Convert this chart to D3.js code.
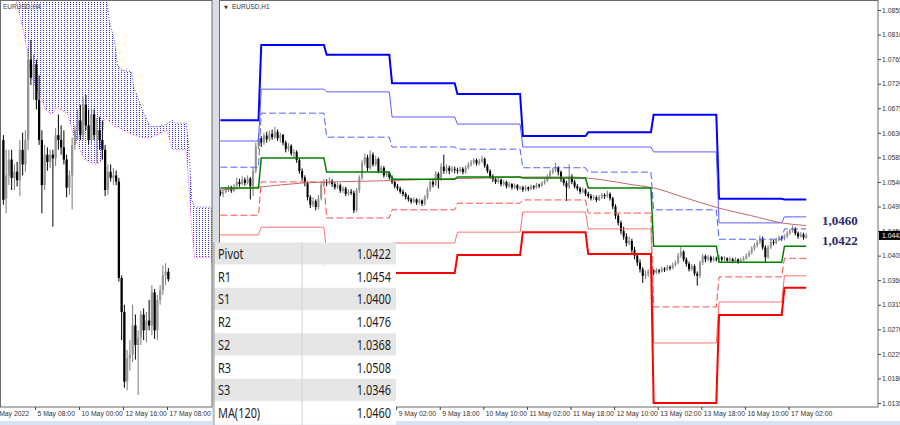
<!DOCTYPE html>
<html><head><meta charset="utf-8">
<script src="https://cdn.jsdelivr.net/npm/d3@7"></script>
<style>body{margin:0;background:#fff;} svg{display:block;}</style>
</head><body><svg id="c" width="900" height="425"></svg>
<script>
// ---------------- DATA ----------------
// H1 candles (right panel) [open, high, low, close], 4 May 09:00 .. 17 May 08:00
const h1 = [
[1.0522,1.0526,1.0514,1.0518],[1.0518,1.0525,1.0512,1.0522],[1.0522,1.0530,1.0519,1.0526],[1.0526,1.0534,1.0522,1.0530],
[1.0530,1.0533,1.0520,1.0524],[1.0524,1.0536,1.0521,1.0532],[1.0532,1.0548,1.0528,1.0540],[1.0540,1.0546,1.0531,1.0536],
[1.0536,1.0550,1.0534,1.0544],[1.0544,1.0548,1.0533,1.0538],[1.0538,1.0552,1.0535,1.0546],[1.0546,1.0549,1.0508,1.0532],
[1.0532,1.0566,1.0514,1.0560],[1.0560,1.0612,1.0556,1.0605],[1.0605,1.0628,1.0600,1.0620],
[1.0620,1.0624,1.0604,1.0612],[1.0612,1.0630,1.0608,1.0625],[1.0625,1.0632,1.0612,1.0618],[1.0618,1.0634,1.0614,1.0628],
[1.0628,1.0636,1.0617,1.0622],[1.0622,1.0641,1.0619,1.0632],[1.0632,1.0636,1.0615,1.0620],[1.0620,1.0630,1.0612,1.0626],
[1.0626,1.0628,1.0607,1.0612],[1.0612,1.0616,1.0594,1.0600],[1.0600,1.0611,1.0596,1.0606],[1.0606,1.0609,1.0588,1.0592],
[1.0592,1.0600,1.0585,1.0595],[1.0595,1.0598,1.0575,1.0580],[1.0580,1.0583,1.0555,1.0560],[1.0560,1.0565,1.0542,1.0548],
[1.0548,1.0552,1.0532,1.0538],[1.0538,1.0541,1.0506,1.0512],[1.0512,1.0516,1.0492,1.0498],[1.0498,1.0512,1.0494,1.0505],
[1.0505,1.0508,1.0488,1.0494],[1.0494,1.0516,1.0490,1.0510],[1.0510,1.0540,1.0506,1.0535],[1.0535,1.0546,1.0530,1.0540],
[1.0540,1.0545,1.0532,1.0538],[1.0538,1.0548,1.0535,1.0542],[1.0542,1.0545,1.0531,1.0536],[1.0536,1.0540,1.0526,1.0530],
[1.0530,1.0539,1.0527,1.0534],[1.0534,1.0537,1.0520,1.0524],[1.0524,1.0532,1.0520,1.0528],[1.0528,1.0531,1.0514,1.0518],
[1.0518,1.0526,1.0515,1.0522],[1.0522,1.0527,1.0516,1.0520],[1.0520,1.0524,1.0483,1.0488],[1.0488,1.0529,1.0485,1.0525],
[1.0525,1.0552,1.0520,1.0548],[1.0548,1.0580,1.0544,1.0575],[1.0575,1.0592,1.0570,1.0585],[1.0585,1.0590,1.0560,1.0565],
[1.0565,1.0598,1.0562,1.0590],[1.0590,1.0594,1.0568,1.0572],[1.0572,1.0588,1.0569,1.0582],[1.0582,1.0585,1.0556,1.0560],
[1.0560,1.0570,1.0557,1.0566],[1.0566,1.0569,1.0548,1.0552],[1.0552,1.0560,1.0549,1.0556],[1.0556,1.0559,1.0544,1.0548],
[1.0548,1.0552,1.0536,1.0540],[1.0540,1.0543,1.0528,1.0532],[1.0532,1.0536,1.0524,1.0528],[1.0528,1.0531,1.0518,1.0522],
[1.0522,1.0526,1.0514,1.0518],[1.0518,1.0521,1.0508,1.0512],[1.0512,1.0516,1.0504,1.0508],[1.0508,1.0511,1.0500,1.0504],
[1.0504,1.0512,1.0501,1.0508],[1.0508,1.0510,1.0498,1.0502],[1.0502,1.0510,1.0499,1.0506],[1.0506,1.0508,1.0496,1.0500],
[1.0500,1.0516,1.0497,1.0512],[1.0512,1.0530,1.0508,1.0526],[1.0526,1.0545,1.0522,1.0540],[1.0540,1.0546,1.0530,1.0535],
[1.0535,1.0560,1.0532,1.0555],[1.0555,1.0558,1.0528,1.0545],[1.0545,1.0574,1.0542,1.0568],[1.0568,1.0590,1.0555,1.0560],
[1.0560,1.0572,1.0556,1.0566],[1.0566,1.0570,1.0554,1.0560],[1.0560,1.0569,1.0557,1.0564],[1.0564,1.0568,1.0556,1.0562],
[1.0562,1.0566,1.0555,1.0560],[1.0560,1.0568,1.0557,1.0564],[1.0564,1.0567,1.0554,1.0558],[1.0558,1.0570,1.0555,1.0566],
[1.0566,1.0576,1.0563,1.0572],[1.0572,1.0580,1.0568,1.0576],[1.0576,1.0584,1.0572,1.0580],[1.0580,1.0583,1.0570,1.0574],
[1.0574,1.0582,1.0571,1.0578],[1.0578,1.0588,1.0575,1.0582],[1.0582,1.0585,1.0566,1.0570],[1.0570,1.0573,1.0556,1.0560],
[1.0560,1.0563,1.0546,1.0550],[1.0550,1.0554,1.0540,1.0545],[1.0545,1.0548,1.0536,1.0540],[1.0540,1.0548,1.0537,1.0544],
[1.0544,1.0546,1.0532,1.0536],[1.0536,1.0544,1.0533,1.0540],[1.0540,1.0542,1.0528,1.0532],[1.0532,1.0540,1.0529,1.0536],
[1.0536,1.0538,1.0526,1.0530],[1.0530,1.0537,1.0527,1.0534],[1.0534,1.0536,1.0524,1.0528],[1.0528,1.0533,1.0525,1.0530],
[1.0530,1.0533,1.0522,1.0526],[1.0526,1.0534,1.0523,1.0530],[1.0530,1.0532,1.0523,1.0527],[1.0527,1.0535,1.0525,1.0532],
[1.0532,1.0534,1.0526,1.0530],[1.0530,1.0538,1.0528,1.0535],[1.0535,1.0537,1.0529,1.0533],[1.0533,1.0541,1.0531,1.0538],
[1.0538,1.0546,1.0535,1.0542],[1.0542,1.0554,1.0540,1.0550],[1.0550,1.0562,1.0547,1.0558],[1.0558,1.0566,1.0554,1.0562],
[1.0562,1.0575,1.0558,1.0566],[1.0566,1.0569,1.0552,1.0558],[1.0558,1.0561,1.0540,1.0545],[1.0545,1.0549,1.0533,1.0538],
[1.0538,1.0542,1.0505,1.0530],[1.0530,1.0572,1.0527,1.0550],[1.0550,1.0554,1.0536,1.0540],[1.0540,1.0544,1.0528,1.0532],
[1.0532,1.0536,1.0524,1.0528],[1.0528,1.0531,1.0518,1.0522],[1.0522,1.0530,1.0519,1.0526],[1.0526,1.0528,1.0514,1.0518],
[1.0518,1.0522,1.0510,1.0514],[1.0514,1.0518,1.0506,1.0510],[1.0510,1.0516,1.0507,1.0512],[1.0512,1.0515,1.0503,1.0507],
[1.0507,1.0516,1.0505,1.0512],[1.0512,1.0520,1.0509,1.0516],[1.0516,1.0519,1.0509,1.0514],[1.0514,1.0524,1.0511,1.0518],
[1.0518,1.0521,1.0506,1.0510],[1.0510,1.0513,1.0490,1.0495],[1.0495,1.0499,1.0472,1.0478],[1.0478,1.0482,1.0460,1.0465],
[1.0465,1.0469,1.0444,1.0450],[1.0450,1.0458,1.0434,1.0440],[1.0440,1.0446,1.0422,1.0428],[1.0428,1.0440,1.0424,1.0432],
[1.0432,1.0436,1.0408,1.0415],[1.0415,1.0421,1.0398,1.0405],[1.0405,1.0410,1.0386,1.0392],[1.0392,1.0398,1.0374,1.0380],
[1.0380,1.0384,1.0355,1.0368],[1.0368,1.0378,1.0362,1.0372],[1.0372,1.0380,1.0366,1.0376],[1.0376,1.0382,1.0370,1.0378],
[1.0378,1.0380,1.0369,1.0374],[1.0374,1.0382,1.0371,1.0378],[1.0378,1.0381,1.0372,1.0376],[1.0376,1.0385,1.0374,1.0381],
[1.0381,1.0384,1.0375,1.0379],[1.0379,1.0388,1.0377,1.0384],[1.0384,1.0387,1.0378,1.0382],[1.0382,1.0392,1.0380,1.0388],
[1.0388,1.0396,1.0385,1.0392],[1.0392,1.0410,1.0389,1.0405],[1.0405,1.0422,1.0401,1.0412],[1.0412,1.0415,1.0394,1.0398],
[1.0398,1.0402,1.0385,1.0390],[1.0390,1.0394,1.0376,1.0380],[1.0380,1.0390,1.0377,1.0386],[1.0386,1.0389,1.0368,1.0372],
[1.0372,1.0376,1.0350,1.0368],[1.0368,1.0396,1.0364,1.0392],[1.0392,1.0408,1.0388,1.0404],[1.0404,1.0407,1.0393,1.0398],
[1.0398,1.0406,1.0395,1.0402],[1.0402,1.0405,1.0392,1.0396],[1.0396,1.0404,1.0394,1.0400],[1.0400,1.0403,1.0394,1.0398],
[1.0398,1.0406,1.0395,1.0402],[1.0402,1.0404,1.0394,1.0398],[1.0398,1.0404,1.0395,1.0400],[1.0400,1.0402,1.0392,1.0396],
[1.0396,1.0403,1.0394,1.0399],[1.0399,1.0401,1.0391,1.0395],[1.0395,1.0402,1.0393,1.0398],[1.0398,1.0400,1.0390,1.0394],
[1.0394,1.0401,1.0392,1.0397],[1.0397,1.0404,1.0395,1.0400],[1.0400,1.0409,1.0398,1.0405],[1.0405,1.0414,1.0402,1.0410],
[1.0410,1.0422,1.0407,1.0418],[1.0418,1.0428,1.0414,1.0424],[1.0424,1.0434,1.0420,1.0430],[1.0430,1.0442,1.0426,1.0436],
[1.0436,1.0440,1.0416,1.0420],[1.0420,1.0424,1.0393,1.0402],[1.0402,1.0424,1.0399,1.0420],[1.0420,1.0434,1.0417,1.0430],
[1.0430,1.0434,1.0424,1.0428],[1.0428,1.0438,1.0426,1.0434],[1.0434,1.0442,1.0431,1.0438],[1.0438,1.0441,1.0432,1.0436],
[1.0436,1.0444,1.0433,1.0440],[1.0440,1.0450,1.0437,1.0446],[1.0446,1.0454,1.0443,1.0450],[1.0450,1.0460,1.0447,1.0454],
[1.0454,1.0457,1.0442,1.0446],[1.0446,1.0449,1.0436,1.0440],[1.0440,1.0448,1.0438,1.0444],[1.0444,1.0447,1.0434,1.0438],
[1.0438,1.0446,1.0436,1.0442]
];

// Daily pivot levels (right panel); first bar index of each day
const dayNames = ["4 May","5 May","6 May","9 May","10 May","11 May","12 May","13 May","16 May","17 May"];
const dayStart = [0,15,39,63,87,111,135,159,183,207];
const r3 = [1.0653,1.0791,1.0773,1.0721,1.0701,1.0624,1.0631,1.0663,1.0509,1.0508];
const r2 = [1.0615,1.0710,1.0705,1.0659,1.0646,1.0604,1.0604,1.0595,1.0465,1.0476];
const r1 = [1.0567,1.0666,1.0622,1.0604,1.0600,1.0566,1.0558,1.0489,1.0435,1.0454];
const pv = [1.0529,1.0584,1.0558,1.0545,1.0549,1.0547,1.0529,1.0422,1.0393,1.0422];
const s1 = [1.0479,1.0540,1.0474,1.0489,1.0501,1.0507,1.0483,1.0311,1.0366,1.0400];
const s2 = [1.0443,1.0457,1.0412,1.0428,1.0448,1.0485,1.0454,1.0245,1.0320,1.0368];
const s3 = [1.0391,1.0413,1.0325,1.0373,1.0406,1.0448,1.0408,1.0135,1.0296,1.0346];

// MA(120) read points (bar index, value)
const maIdx = [0,15,30,41,59,78,96,114,129,135,140,151,159,170,183,195,206,215];
const maVal = [1.0525,1.0531,1.0538,1.0540,1.0542,1.0545,1.0547,1.0549,1.0549,1.0547,1.0544,1.0535,1.0529,1.0512,1.0492,1.0478,1.0465,1.0460];

// H4 candles (left panel) [open, high, low, close], 3 May 08:00 .. 17 May 08:00
const h4 = [
[1.0559,1.0563,1.0506,1.0510],[1.0511,1.0551,1.0499,1.0530],[1.0530,1.0551,1.0522,1.0543],[1.0543,1.0551,1.0518,1.0528],
[1.0528,1.0539,1.0518,1.0533],[1.0533,1.0541,1.0521,1.0526],[1.0526,1.0559,1.0513,1.0551],[1.0551,1.0565,1.0530,1.0539],
[1.0539,1.0567,1.0533,1.0559],[1.0559,1.0634,1.0551,1.0625],[1.0625,1.0641,1.0604,1.0610],[1.0610,1.0629,1.0592,1.0621],
[1.0621,1.0625,1.0584,1.0592],[1.0592,1.0612,1.0555,1.0559],[1.0559,1.0567,1.0499,1.0522],[1.0522,1.0555,1.0518,1.0547],
[1.0547,1.0553,1.0534,1.0541],[1.0541,1.0551,1.0536,1.0547],[1.0547,1.0551,1.0488,1.0544],[1.0544,1.0569,1.0538,1.0563],
[1.0563,1.0580,1.0551,1.0559],[1.0559,1.0571,1.0547,1.0553],[1.0553,1.0567,1.0539,1.0543],[1.0543,1.0547,1.0512,1.0520],
[1.0520,1.0534,1.0514,1.0530],[1.0530,1.0561,1.0502,1.0555],[1.0555,1.0571,1.0551,1.0567],[1.0567,1.0584,1.0559,1.0575],
[1.0575,1.0588,1.0559,1.0563],[1.0563,1.0594,1.0559,1.0588],[1.0588,1.0596,1.0567,1.0571],[1.0571,1.0584,1.0555,1.0559],
[1.0559,1.0585,1.0555,1.0580],[1.0580,1.0584,1.0559,1.0563],[1.0563,1.0577,1.0540,1.0567],[1.0567,1.0578,1.0551,1.0559],
[1.0559,1.0575,1.0543,1.0551],[1.0551,1.0555,1.0513,1.0518],[1.0518,1.0539,1.0514,1.0533],[1.0533,1.0539,1.0525,1.0528],
[1.0528,1.0536,1.0522,1.0530],[1.0530,1.0534,1.0522,1.0525],[1.0525,1.0528,1.0443,1.0446],[1.0446,1.0448,1.0395,1.0418],
[1.0418,1.0424,1.0356,1.0361],[1.0361,1.0387,1.0354,1.0380],[1.0380,1.0395,1.0370,1.0383],[1.0383,1.0424,1.0377,1.0407],
[1.0407,1.0416,1.0379,1.0391],[1.0391,1.0403,1.0350,1.0397],[1.0397,1.0419,1.0391,1.0416],[1.0416,1.0421,1.0395,1.0403],
[1.0403,1.0418,1.0393,1.0411],[1.0411,1.0428,1.0403,1.0407],[1.0407,1.0440,1.0399,1.0434],[1.0434,1.0437,1.0396,1.0403],
[1.0403,1.0432,1.0395,1.0428],[1.0428,1.0440,1.0424,1.0436],[1.0436,1.0456,1.0432,1.0448],[1.0448,1.0458,1.0440,1.0451],
[1.0451,1.0454,1.0443,1.0445]
];

// Ichimoku cloud (left panel): H4 bar index, upper span, lower span
const cloudIdx   = [5,8,11,16,18,20,24,26,30,34,36,37,38,39,41,42,44,47,48,51,53,54,57,60,62,63,67,68,69,70,71,76,77];
const cloudUpper = [1.0678,1.0678,1.0678,1.0678,1.0678,1.0678,1.0678,1.0678,1.0678,1.0678,1.0678,1.0678,1.0674,1.0657,1.0639,1.0620,1.0616,1.0615,1.0602,1.0584,1.0574,1.0570,1.0570,1.0572,1.0575,1.0573,1.0573,1.0551,1.0510,1.0504,1.0504,1.0504,1.0490];
const cloudLower = [1.0674,1.0647,1.0608,1.0584,1.0580,1.0586,1.0580,1.0563,1.0543,1.0539,1.0541,1.0575,1.0577,1.0574,1.0570,1.0570,1.0567,1.0564,1.0563,1.0561,1.0561,1.0561,1.0564,1.0567,1.0551,1.0551,1.0551,1.0522,1.0485,1.0463,1.0463,1.0463,1.0447];

// Axis ticks (only those visible in the reference)
const priceTicks = [1.0855,1.0810,1.0765,1.0720,1.0675,1.0630,1.0585,1.0540,1.0495,1.0450,1.0405,1.0360,1.0315,1.0270,1.0225,1.0180,1.0135];
const rTickIdx = [65,81,97,113,129,145,161,177,193,209];
const rTickLbl = ["9 May 02:00","9 May 18:00","10 May 10:00","11 May 02:00","11 May 18:00","12 May 10:00","13 May 02:00","13 May 18:00","16 May 10:00","17 May 02:00"];
const lTickIdx = [-4,12,28,44,60];
const lTickLbl = ["2 May 2022","5 May 08:00","10 May 00:00","12 May 16:00","17 May 08:00"];

// Table
const tableLabels = ["Pivot","R1","S1","R2","S2","R3","S3","MA(120)"];
const tableValues = ["1.0422","1.0454","1.0400","1.0476","1.0368","1.0508","1.0346","1.0460"];
// Right-side annotations
const annotValues = [1.0460, 1.0422];
const annotText = ["1,0460", "1,0422"];
const currentPrice = 1.0442;

// ---------------- DRAW ----------------
const svg = d3.select('#c');
const W = 900, H = 425;
const bwR = 2.725, bwL = 2.75;
const xR = d3.scaleLinear().domain([0, 216]).range([219, 219 + 216 * bwR]);
const yR = d3.scaleLinear().domain([1.0135, 1.0855]).range([403, 10]);
const xL = d3.scaleLinear().domain([0, 77]).range([2, 2 + 77 * bwL]);
const yL = d3.scaleLinear().domain([1.0350, 1.0641]).range([395, 40]);

svg.append('rect').attr('width', W).attr('height', H).attr('fill', '#fff');
const defs = svg.append('defs');
defs.append('clipPath').attr('id', 'clipL').append('rect').attr('x', 0).attr('y', 0).attr('width', 212).attr('height', 407);
defs.append('clipPath').attr('id', 'clipR').append('rect').attr('x', 219).attr('y', 0).attr('width', 659).attr('height', 407);
const pat = defs.append('pattern').attr('id', 'cloudPat').attr('patternUnits', 'userSpaceOnUse')
  .attr('x', 0).attr('y', 0).attr('width', 3).attr('height', 2);
pat.append('rect').attr('x', 1).attr('y', 0).attr('width', 1).attr('height', 1).attr('fill', '#3535ff')
  .attr('shape-rendering', 'crispEdges');

// splitter & bottom strip
svg.append('rect').attr('x', 212).attr('y', 0).attr('width', 7).attr('height', 421).attr('fill', '#d8dde6');
svg.append('rect').attr('x', 0).attr('y', 421).attr('width', W).attr('height', 4).attr('fill', '#d5e3f4');

// ---- left panel ----
const gL = svg.append('g').attr('clip-path', 'url(#clipL)');
const cloud = cloudIdx.map((d, i) => ({ i: d, u: cloudUpper[i], l: cloudLower[i] }));
gL.append('path').datum(cloud)
  .attr('d', d3.area().x(d => xL(d.i)).y0(d => yL(d.l)).y1(d => yL(d.u)))
  .attr('fill', 'url(#cloudPat)');
gL.append('path').datum(cloud).attr('d', d3.line().x(d => xL(d.i)).y(d => yL(d.u)))
  .attr('fill', 'none').attr('stroke', '#3a3aff').attr('stroke-width', 1).attr('stroke-dasharray', '1,2');
gL.append('path').datum(cloud).attr('d', d3.line().x(d => xL(d.i)).y(d => yL(d.l)))
  .attr('fill', 'none').attr('stroke', '#ff30ff').attr('stroke-width', 1).attr('stroke-dasharray', '1,2');

function candles(g, data, x, y, bw, bodyW) {
  const c = g.append('g').selectAll('g').data(data).join('g');
  c.append('line')
    .attr('x1', (d, i) => x(i) + bw / 2).attr('x2', (d, i) => x(i) + bw / 2)
    .attr('y1', d => y(d[1])).attr('y2', d => y(d[2]))
    .attr('stroke', d => d[3] >= d[0] ? '#7a7a7a' : '#000').attr('stroke-width', 1);
  c.append('rect')
    .attr('x', (d, i) => x(i) + bw / 2 - bodyW / 2).attr('width', bodyW)
    .attr('y', d => y(Math.max(d[0], d[3])))
    .attr('height', d => Math.max(1, Math.abs(y(d[0]) - y(d[3]))))
    .attr('fill', d => d[3] >= d[0] ? '#949494' : '#000');
}
candles(gL, h4, xL, yL, bwL, 2.3);

// ---- right panel ----
const gR = svg.append('g').attr('clip-path', 'url(#clipR)');
candles(gR, h1, xR, yR, bwR, 2);
const bars = d3.range(h1.length);
const dayOf = i => d3.bisectRight(dayStart, i) - 1;
function level(arr, color, width, dash) {
  gR.append('path').datum(bars)
    .attr('d', d3.line().x(i => xR(i) + bwR / 2).y(i => yR(arr[dayOf(i)])))
    .attr('fill', 'none').attr('stroke', color).attr('stroke-width', width)
    .attr('stroke-dasharray', dash || null);
}
level(r3, '#0000ff', 2);
level(r2, '#5a5aff', 1);
level(r1, '#4f5fff', 1, '7,3');
level(s1, '#ff4a4a', 1, '7,3');
level(s2, '#ff7070', 1);
level(s3, '#ff0000', 2);
// MA(120)
gR.append('path').datum(maIdx.map((d, i) => [d, maVal[i]]))
  .attr('d', d3.line().x(d => xR(d[0]) + bwR / 2).y(d => yR(d[1])).curve(d3.curveMonotoneX))
  .attr('fill', 'none').attr('stroke', '#c46a6a').attr('stroke-width', 1);
level(pv, '#008000', 1.5);

// annotations
svg.selectAll('.annot').data(annotValues).join('text').attr('class', 'annot')
  .attr('x', 822).attr('y', d => yR(d) - 1)
  .attr('font-family', '"Liberation Serif", serif').attr('font-weight', 'bold').attr('font-size', 13)
  .attr('fill', '#2b2a6a').text((d, i) => annotText[i]);

// frames
svg.append('rect').attr('x', 0.5).attr('y', 0.5).attr('width', 211.5).attr('height', 406.5)
  .attr('fill', 'none').attr('stroke', '#6a6a6a');
svg.append('rect').attr('x', 219.5).attr('y', 0.5).attr('width', 658.5).attr('height', 406.5)
  .attr('fill', 'none').attr('stroke', '#6a6a6a');

// titles
svg.append('text').attr('x', 3).attr('y', 9).attr('font-family', '"Liberation Sans", sans-serif')
  .attr('font-size', 6.5).attr('fill', '#444').text('EURUSD,H4');
svg.append('text').attr('x', 224).attr('y', 9).attr('font-family', '"DejaVu Sans", sans-serif')
  .attr('font-size', 5).attr('fill', '#333').text('▼');
svg.append('text').attr('x', 232).attr('y', 9).attr('font-family', '"Liberation Sans", sans-serif')
  .attr('font-size', 6.5).attr('fill', '#333').text('EURUSD,H1');

// axes
function styleAxis(g) {
  g.select('.domain').remove();
  g.selectAll('line').attr('stroke', '#444');
  g.selectAll('text').attr('font-family', '"Liberation Sans", sans-serif').attr('font-size', 6.8).attr('fill', '#333');
}
const axR = svg.append('g').attr('transform', 'translate(878,0)')
  .call(d3.axisRight(yR).tickValues(priceTicks).tickFormat(d3.format('.4f')).tickSize(3).tickPadding(1));
styleAxis(axR);
axR.selectAll('text').attr('x', 4);

const axB = svg.append('g').attr('transform', 'translate(0,407)')
  .call(d3.axisBottom(xR).tickValues(rTickIdx).tickFormat((d, i) => rTickLbl[i]).tickSize(3));
styleAxis(axB);
axB.selectAll('text').attr('text-anchor', 'start').attr('x', 2).attr('y', 4).attr('dy', '0.71em');

const axL = svg.append('g').attr('transform', 'translate(0,407)')
  .call(d3.axisBottom(xL).tickValues(lTickIdx).tickFormat((d, i) => lTickLbl[i]).tickSize(3));
styleAxis(axL);
axL.selectAll('text').attr('text-anchor', 'start').attr('x', 2).attr('y', 4).attr('dy', '0.71em');

// current price marker
const cy = yR(currentPrice);
svg.append('rect').attr('x', 879).attr('y', cy - 4.5).attr('width', 21).attr('height', 9).attr('fill', '#000');
svg.append('text').attr('x', 882).attr('y', cy + 2.4).attr('font-family', '"Liberation Sans", sans-serif')
  .attr('font-size', 6.8).attr('fill', '#fff').text(currentPrice.toFixed(4));

// table
const tb = svg.append('g');
const rowH = 22.75, t0 = 242.5, tx0 = 214, tx1 = 396;
const rows = tb.selectAll('g').data(tableLabels).join('g')
  .attr('transform', (d, i) => `translate(0,${t0 + i * rowH})`);
rows.append('rect').attr('x', tx0).attr('width', tx1 - tx0).attr('height', rowH)
  .attr('fill', (d, i) => i % 2 === 0 ? '#e6e6e6' : '#ffffff');
rows.append('line').attr('x1', tx0).attr('x2', tx1).attr('y1', rowH - 0.5).attr('y2', rowH - 0.5)
  .attr('stroke', '#fafafa').attr('stroke-width', 1);
rows.append('text').attr('transform', `translate(218,${rowH / 2 + 5}) scale(0.78,1)`)
  .attr('font-family', '"Noto Sans", "Open Sans", sans-serif').attr('font-size', 14).attr('fill', '#1e1e1e')
  .text(d => d);
rows.append('text').attr('transform', `translate(391,${rowH / 2 + 5}) scale(0.78,1)`)
  .attr('text-anchor', 'end')
  .attr('font-family', '"Noto Sans", "Open Sans", sans-serif').attr('font-size', 14).attr('fill', '#1e1e1e')
  .text((d, i) => tableValues[i]);
tb.append('line').attr('x1', 302).attr('x2', 302).attr('y1', t0).attr('y2', H)
  .attr('stroke', '#d2d2d2').attr('stroke-width', 1);
tb.append('line').attr('x1', tx0).attr('x2', tx0).attr('y1', t0).attr('y2', H)
  .attr('stroke', '#9a9a9a').attr('stroke-width', 1);
</script></body></html>
